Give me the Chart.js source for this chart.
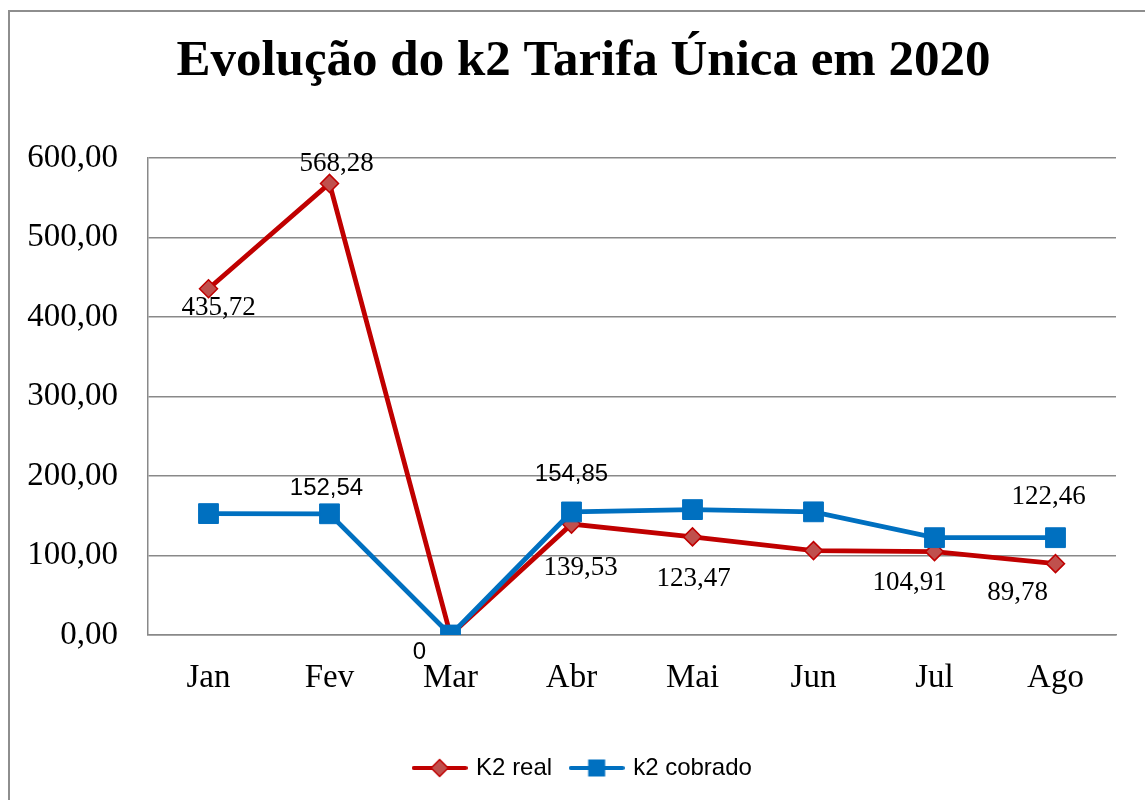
<!DOCTYPE html>
<html>
<head>
<meta charset="utf-8">
<script src="https://cdn.jsdelivr.net/npm/chart.js@4/dist/chart.umd.min.js"></script>
<style>
    body { margin: 0; background: #fff; }
    #wrap { position: relative; width: 1145px; height: 800px; overflow: hidden; }
    #frame { position: absolute; left: 8px; top: 10px; width: 1200px; height: 900px;
             border-left: 2px solid #8e8e8e; border-top: 2px solid #8e8e8e; }
    #chart { position: absolute; left: 0; top: 0; }
</style>
</head>
<body>
<div id="wrap">
    <div id="frame"></div>
    <canvas id="chart" width="1145" height="800"></canvas>
</div>
<script>
// values
const months = ['Jan', 'Fev', 'Mar', 'Abr', 'Mai', 'Jun', 'Jul', 'Ago'];
const k2Real = [435.72, 568.28, 0, 139.53, 123.47, 106.2, 104.91, 89.78];
const k2Cobrado = [152.8, 152.54, 0, 154.85, 157.8, 155.0, 122.46, 122.46];
const yTicks = [0, 100, 200, 300, 400, 500, 600];

// which labels are shown, where they sit relative to the point, and which font
const realLabels = [
    {dx: 10, dy: 19, sans: false},
    {dx: 7, dy: -20, sans: false},
    {dx: -31, dy: 17, sans: true},
    {dx: 9, dy: 44, sans: false},
    {dx: 1, dy: 42, sans: false},
    null,
    {dx: -25, dy: 31, sans: false},
    {dx: -38, dy: 29, sans: false}
];
const cobradoLabels = [
    null,
    {dx: -3, dy: -25, sans: true},
    null,
    {dx: 0, dy: -38, sans: true},
    null,
    null,
    null,
    {dx: -7, dy: -41, sans: false}
];

const RED = '#C00000';
const RED_FILL = '#C0504D';
const BLUE = '#0070C0';
const GRID = '#898989';
const SERIF = '"Liberation Serif", "Times New Roman", serif';
const SANS = '"Liberation Sans", Arial, sans-serif';

function fmt(v) {
    if (v === 0) return '0';
    return v.toFixed(2).replace('.', ',');
}

function legendIcon(line, fill, shape) {
    const c = document.createElement('canvas');
    c.width = 56;
    c.height = 22;
    const g = c.getContext('2d');
    g.strokeStyle = line;
    g.lineWidth = 4;
    g.lineCap = 'round';
    g.beginPath();
    g.moveTo(2, 11);
    g.lineTo(54, 11);
    g.stroke();
    g.fillStyle = fill;
    if (shape === 'diamond') {
        g.beginPath();
        g.moveTo(28, 2.5);
        g.lineTo(36.5, 11);
        g.lineTo(28, 19.5);
        g.lineTo(19.5, 11);
        g.closePath();
        g.fill();
        g.lineWidth = 1.5;
        g.strokeStyle = line;
        g.stroke();
    } else {
        g.fillRect(19.5, 2.5, 17, 17);
    }
    return c;
}

const valueLabels = {
    id: 'valueLabels',
    afterDatasetsDraw(chart) {
        const ctx = chart.ctx;
        const specs = [realLabels, cobradoLabels];
        ctx.save();
        ctx.fillStyle = '#000';
        ctx.textAlign = 'center';
        ctx.textBaseline = 'middle';
        chart.data.datasets.forEach((ds, i) => {
            const meta = chart.getDatasetMeta(i);
            meta.data.forEach((pt, j) => {
                const s = specs[i][j];
                if (!s) return;
                ctx.font = s.sans ? '24px ' + SANS : '27px ' + SERIF;
                ctx.fillText(fmt(ds.data[j]), pt.x + s.dx, pt.y + s.dy);
            });
        });
        ctx.restore();
    }
};

const icons = [legendIcon(RED, RED_FILL, 'diamond'), legendIcon(BLUE, BLUE, 'square')];

new Chart(document.getElementById('chart'), {
    type: 'line',
    data: {
        labels: months,
        datasets: [{
            label: 'K2 real',
            data: k2Real,
            borderColor: RED,
            borderWidth: 4.8,
            backgroundColor: RED_FILL,
            pointStyle: 'rectRot',
            pointRadius: 9,
            pointBorderColor: RED,
            pointBorderWidth: 1.5,
            order: 1,
            tension: 0
        }, {
            label: 'k2 cobrado',
            data: k2Cobrado,
            borderColor: BLUE,
            borderWidth: 4.8,
            backgroundColor: BLUE,
            pointStyle: 'rect',
            pointRadius: 14,
            pointBorderColor: BLUE,
            pointBorderWidth: 1,
            order: 0,
            tension: 0
        }]
    },
    options: {
        responsive: false,
        animation: false,
        events: [],
        layout: {
            padding: {left: 22, right: 0, top: 0, bottom: 10}
        },
        plugins: {
            title: {
                display: true,
                text: 'Evolução do k2 Tarifa Única em 2020',
                color: '#000',
                font: {family: SERIF, size: 51, weight: 'bold'},
                padding: {top: 31, bottom: 66}
            },
            legend: {
                position: 'bottom',
                labels: {
                    usePointStyle: true,
                    pointStyleWidth: 49,
                    padding: 20,
                    color: '#000',
                    font: {family: SANS, size: 24},
                    generateLabels: (chart) => chart.data.datasets.map((ds, i) => ({
                        text: ds.label,
                        pointStyle: icons[i],
                        fillStyle: ds.backgroundColor,
                        strokeStyle: ds.borderColor,
                        lineWidth: 0,
                        hidden: false,
                        datasetIndex: i
                    }))
                }
            },
            tooltip: {enabled: false}
        },
        scales: {
            x: {
                offset: true,
                grid: {display: false},
                border: {display: true, color: GRID, width: 1.5},
                ticks: {color: '#000', font: {family: SERIF, size: 33}, padding: 16, maxRotation: 0},
                afterFit: (scale) => { scale.height = 101; }
            },
            y: {
                min: 0,
                max: 600,
                afterBuildTicks: (scale) => { scale.ticks = yTicks.map(v => ({value: v})); },
                grid: {color: GRID, lineWidth: 1.5, drawTicks: false},
                border: {display: true, color: GRID, width: 1.5},
                ticks: {
                    color: '#000',
                    font: {family: SERIF, size: 33},
                    padding: 30,
                    callback: (v) => v.toFixed(2).replace('.', ',')
                },
                afterFit: (scale) => { scale.width = 126; }
            },
            // empty right-hand gutter so the title and legend centre like the original
            gutter: {
                type: 'linear',
                position: 'right',
                grid: {display: false},
                border: {display: false},
                ticks: {display: false},
                afterFit: (scale) => { scale.width = 29; }
            }
        }
    },
    plugins: [valueLabels]
});
</script>
</body>
</html>
